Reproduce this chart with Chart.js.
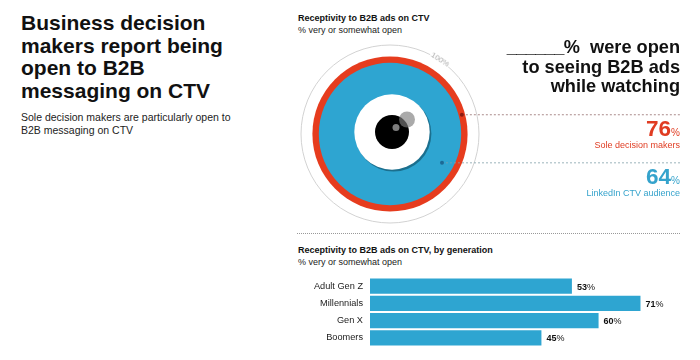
<!DOCTYPE html>
<html lang="en">
<head>
  <meta charset="UTF-8">
  <title>Receptivity to B2B ads on CTV</title>
  <style>
    body { margin: 0; background: #fff; font-family: 'Liberation Sans', Arial, sans-serif; color: #111; }
    #page { position: relative; width: 700px; height: 360px; overflow: hidden; }
    #page div, #page canvas { position: absolute; }
    .title { left: 21px; top: 12px; font-size: 21px; line-height: 22.7px; font-weight: bold; white-space: nowrap; }
    .sub { left: 21px; top: 111px; font-size: 10.5px; line-height: 13.3px; color: #222; white-space: nowrap; }
    .head { left: 298px; font-size: 9px; line-height: 12px; color: #222; white-space: nowrap; }
    .head b { color: #111; }
    .big { right: 20px; top: 38px; font-size: 18.2px; line-height: 19.6px; font-weight: bold; text-align: right; white-space: nowrap; }
    .big span { letter-spacing: -0.6px; }
    .num { right: 20px; font-size: 22.5px; line-height: 26px; font-weight: bold; white-space: nowrap; }
    .num span { font-size: 10px; font-weight: normal; }
    .cap { right: 20px; font-size: 9px; line-height: 12px; white-space: nowrap; }
    .red { color: #e03c22; }
    .blue { color: #35a3cc; }
    .rule { left: 297px; width: 383px; top: 233px; border-top: 1px dotted #999; }
    .full { left: 429px; top: 55px; font-size: 8px; line-height: 9px; color: #aaa; background: #fff; padding: 0 1px; transform: rotate(33deg); }
  </style>
</head>
<body>
  <div id="page">
    <div class="title">Business decision<br>makers report being<br>open to B2B<br>messaging on CTV</div>
    <div class="sub">Sole decision makers are particularly open to<br>B2B messaging on CTV</div>

    <div class="head" style="top:12px"><b>Receptivity to B2B ads on CTV</b><br>% very or somewhat open</div>
    <canvas id="rings"></canvas>
    <div class="full">100%</div>
    <div class="big"><span>______</span>%&nbsp; were open<br>to seeing B2B ads<br>while watching</div>
    <div class="num red" style="top:116px">76<span>%</span></div>
    <div class="cap red" style="top:139px">Sole decision makers</div>
    <div class="num blue" style="top:164px">64<span>%</span></div>
    <div class="cap blue" style="top:187px">LinkedIn CTV audience</div>

    <div class="rule"></div>
    <div class="head" style="top:244px"><b>Receptivity to B2B ads on CTV, by generation</b><br>% very or somewhat open</div>
    <canvas id="bars"></canvas>
  </div>

  <script src="https://cdn.jsdelivr.net/npm/chart.js"></script>
  <script>
    const ringNames = ['Scale', 'Sole decision makers', 'LinkedIn CTV audience'];
    const ringValues = [100, 76, 64];
    const generations = ['Adult Gen Z', 'Millennials', 'Gen X', 'Boomers'];
    const generationValues = [53, 71, 60, 45];

    const RED = '#e63c1e';
    const BLUE = '#2ea5d1';

    // circle area is proportional to the value
    const maxRadius = 89;
    function ringRadius(v) {
      return maxRadius * Math.sqrt(v / 100);
    }

    function disc(label, x, y, r, color, extra) {
      return Object.assign({
        label: label,
        data: [{ x: x, y: y, r: r }],
        backgroundColor: color,
        borderWidth: 0,
        clip: false
      }, extra);
    }

    function leader(radius, deg, color, dotColor) {
      const a = deg * Math.PI / 180;
      const x = radius * Math.cos(a);
      const y = radius * Math.sin(a);
      return {
        type: 'line',
        data: [{ x: x, y: y }, { x: 290, y: y }],
        borderColor: color,
        borderWidth: 1,
        borderDash: [2, 2],
        pointRadius: [2, 0],
        pointBackgroundColor: dotColor,
        pointBorderWidth: 0,
        clip: false
      };
    }

    const rOuter = ringRadius(ringValues[0]);
    const rRed = ringRadius(ringValues[1]);
    const rBlue = ringRadius(ringValues[2]);

    // first dataset ends up on top
    const ringSets = [
      leader((rRed + rBlue) / 2, 15, 'rgba(150,110,110,0.8)', '#8c1c12'),
      leader(rBlue * 0.835, -29, 'rgba(130,160,170,0.8)', '#1c6a96'),
      disc('glint', 6, 6.5, 3.5, '#7d7d7d'),
      disc('highlight', 17, 14.5, 8, 'rgba(125,125,125,0.65)'),
      disc('pupil', 2, 2, 17, '#000'),
      disc('eye', 2, 2, 37.7, '#fff'),
      disc('eye shadow', 3.5, 0.3, 37.9, '#1b6f8e'),
      disc(ringNames[2], 0, 0, rBlue, BLUE),
      disc(ringNames[1], 0, 0, rRed, RED),
      disc(ringNames[0], 0, 0, rOuter, '#fff', { borderWidth: 1, borderColor: '#d2d2d2' })
    ];

    const ringCanvas = document.getElementById('rings');
    ringCanvas.style.left = '300px';
    ringCanvas.style.top = '40px';
    ringCanvas.width = 380;
    ringCanvas.height = 190;

    new Chart(ringCanvas, {
      type: 'bubble',
      data: { datasets: ringSets },
      options: {
        responsive: false,
        animation: false,
        events: [],
        layout: { autoPadding: false },
        plugins: { legend: { display: false }, tooltip: { enabled: false } },
        scales: {
          x: { type: 'linear', display: false, min: -90, max: 290 },
          y: { type: 'linear', display: false, min: -96, max: 94 }
        }
      }
    });

    const valueLabels = {
      id: 'valueLabels',
      afterDatasetsDraw(chart) {
        const ctx = chart.ctx;
        const meta = chart.getDatasetMeta(0);
        ctx.save();
        ctx.textBaseline = 'middle';
        ctx.fillStyle = '#111';
        meta.data.forEach((bar, i) => {
          const num = String(generationValues[i]);
          ctx.font = "bold 9px 'Liberation Sans'";
          ctx.fillText(num, bar.x + 5, bar.y + 1);
          const w = ctx.measureText(num).width;
          ctx.font = "9px 'Liberation Sans'";
          ctx.fillText('%', bar.x + 5 + w, bar.y + 1);
        });
        ctx.restore();
      }
    };

    // the y axis keeps 13px above and below the bars for tick padding, so the canvas is taller than the bars
    const barCanvas = document.getElementById('bars');
    barCanvas.style.left = '290px';
    barCanvas.style.top = '265px';
    barCanvas.width = 400;
    barCanvas.height = 94;

    new Chart(barCanvas, {
      type: 'bar',
      data: {
        labels: generations,
        datasets: [{
          data: generationValues,
          backgroundColor: BLUE,
          barPercentage: 0.88,
          categoryPercentage: 1
        }]
      },
      plugins: [valueLabels],
      options: {
        indexAxis: 'y',
        responsive: false,
        animation: false,
        events: [],
        layout: { autoPadding: false },
        plugins: { legend: { display: false }, tooltip: { enabled: false } },
        scales: {
          x: { display: false, min: 0, max: 84 },
          y: {
            afterFit(scale) { scale.width = 80; },
            grid: { display: false, drawTicks: false },
            border: { display: false },
            ticks: { color: '#222', padding: 7, autoSkip: false, font: { family: "'Liberation Sans'", size: 9.2 } }
          }
        }
      }
    });
  </script>
</body>
</html>
